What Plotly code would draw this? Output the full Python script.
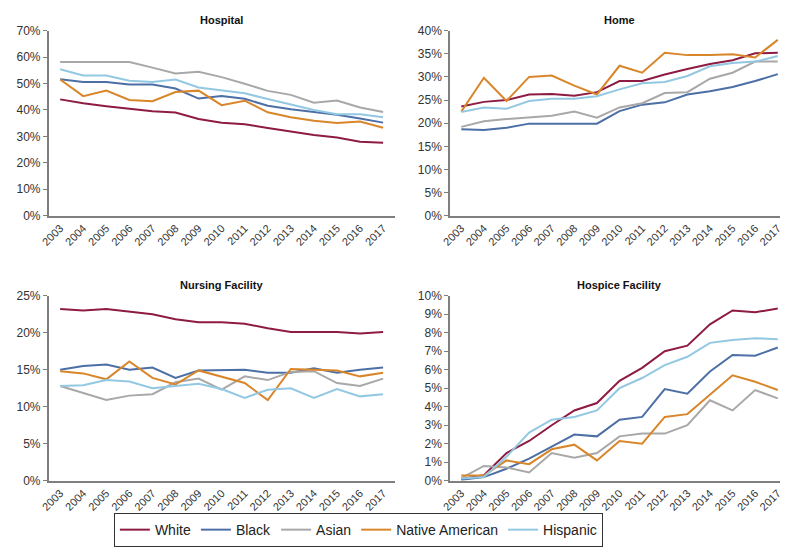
import plotly.graph_objects as go

years = [str(y) for y in range(2003, 2018)]
groups = ["White", "Black", "Asian", "Native American", "Hispanic"]
colors = ["#8E1B43", "#4C6FA6", "#A8A8A8", "#D9862A", "#93C8E3"]

hospital_white = [44.0, 42.5, 41.4, 40.5, 39.5, 39.0, 36.6, 35.2, 34.6, 33.2, 31.9, 30.5, 29.6, 28.0, 27.6]
hospital_black = [51.6, 50.6, 50.6, 49.6, 49.6, 48.1, 44.3, 45.3, 44.2, 41.6, 40.3, 39.2, 38.2, 36.8, 35.2]
hospital_asian = [58.1, 58.1, 58.1, 58.1, 56.0, 53.8, 54.4, 52.4, 49.9, 47.2, 45.7, 42.7, 43.6, 40.9, 39.2]
hospital_native = [51.5, 45.2, 47.3, 43.8, 43.3, 46.8, 47.3, 41.8, 43.5, 39.1, 37.2, 35.9, 35.1, 35.6, 33.3]
hospital_hispanic = [55.4, 53.0, 53.0, 51.0, 50.6, 51.5, 48.5, 47.3, 46.3, 44.1, 42.0, 40.0, 38.4, 38.4, 37.2]

home_white = [23.6, 24.6, 25.0, 26.2, 26.3, 25.9, 26.7, 29.1, 29.1, 30.5, 31.7, 32.8, 33.6, 35.1, 35.2]
home_black = [18.7, 18.5, 19.0, 19.9, 19.9, 19.9, 19.9, 22.6, 24.0, 24.5, 26.2, 26.9, 27.8, 29.1, 30.6]
home_asian = [19.2, 20.4, 20.9, 21.3, 21.6, 22.5, 21.2, 23.4, 24.3, 26.5, 26.7, 29.6, 30.9, 33.3, 33.3]
home_native = [22.5, 29.8, 24.8, 30.0, 30.3, 28.1, 26.2, 32.4, 30.9, 35.2, 34.7, 34.7, 34.9, 34.2, 38.0]
home_hispanic = [22.4, 23.4, 23.1, 24.8, 25.3, 25.3, 25.8, 27.3, 28.6, 28.9, 30.2, 32.3, 33.0, 33.3, 34.5]

nursing_white = [23.2, 23.0, 23.2, 22.9, 22.5, 21.8, 21.4, 21.4, 21.2, 20.6, 20.1, 20.1, 20.1, 19.9, 20.1]
nursing_black = [15.0, 15.5, 15.7, 15.0, 15.3, 13.9, 14.9, 15.0, 15.0, 14.6, 14.6, 15.2, 14.6, 15.0, 15.3]
nursing_asian = [12.8, 11.8, 10.9, 11.5, 11.7, 13.3, 13.8, 12.3, 14.1, 13.6, 14.7, 14.8, 13.2, 12.8, 13.8]
nursing_native = [14.8, 14.5, 13.7, 16.1, 13.9, 13.0, 14.9, 14.0, 13.2, 10.9, 15.1, 15.0, 14.9, 14.1, 14.6]
nursing_hispanic = [12.8, 12.9, 13.6, 13.4, 12.5, 12.8, 13.1, 12.4, 11.2, 12.3, 12.5, 11.2, 12.4, 11.4, 11.7]

hospice_white = [0.1, 0.3, 1.5, 2.15, 3.0, 3.8, 4.2, 5.4, 6.1, 7.0, 7.3, 8.45, 9.2, 9.1, 9.3]
hospice_black = [0.05, 0.2, 0.65, 1.2, 1.85, 2.5, 2.4, 3.3, 3.45, 4.95, 4.7, 5.9, 6.8, 6.75, 7.2]
hospice_asian = [0.15, 0.8, 0.72, 0.45, 1.5, 1.25, 1.5, 2.4, 2.55, 2.55, 3.0, 4.35, 3.8, 4.9, 4.45]
hospice_native = [0.28, 0.28, 1.1, 0.9, 1.7, 1.95, 1.1, 2.15, 2.0, 3.45, 3.6, 4.65, 5.7, 5.35, 4.9]
hospice_hispanic = [0.12, 0.2, 1.3, 2.6, 3.3, 3.45, 3.8, 5.0, 5.55, 6.25, 6.7, 7.45, 7.6, 7.7, 7.65]

panels = [
    ("Hospital", [hospital_white, hospital_black, hospital_asian, hospital_native, hospital_hispanic], 70, 10),
    ("Home", [home_white, home_black, home_asian, home_native, home_hispanic], 40, 5),
    ("Nursing Facility", [nursing_white, nursing_black, nursing_asian, nursing_native, nursing_hispanic], 25, 5),
    ("Hospice Facility", [hospice_white, hospice_black, hospice_asian, hospice_native, hospice_hispanic], 10, 1),
]

W, H = 788, 548
# pixel boxes: (x0, x1, ytop, ybottom)
boxes = [(32, 382, 16, 206), (438, 781, 16, 206), (32, 382, 288, 478), (438, 781, 288, 478)]

FONT = "Liberation Sans, Arial, Helvetica, sans-serif"
fig = go.Figure()
layout = {}
annotations = []
for i, ((title, series, ymax, dtick), (x0, x1, yt, yb)) in enumerate(zip(panels, boxes)):
    n = "" if i == 0 else str(i + 1)
    for g, (name, col, vals) in enumerate(zip(groups, colors, series)):
        fig.add_trace(go.Scatter(
            x=years, y=vals, mode="lines", name=name,
            line=dict(color=col, width=2),
            xaxis="x" + n, yaxis="y" + n,
            showlegend=(i == 0),
            hovertemplate="%{x}: %{y:.1f}%<extra>" + name + "</extra>",
        ))
    layout["xaxis" + n] = dict(
        domain=[x0 / W, x1 / W], anchor="y" + n, type="category",
        range=[-0.5, 14.5], showgrid=False, showline=True, linecolor="#7f7f7f",
        linewidth=1.5, ticks="", tickangle=-45, tickfont=dict(size=11, color="#333", family=FONT),
        zeroline=False,
    )
    layout["yaxis" + n] = dict(
        domain=[1 - yb / H, 1 - yt / H], anchor="x" + n, range=[0, ymax],
        dtick=dtick, tick0=0, ticksuffix="%", showgrid=False, showline=True,
        linecolor="#7f7f7f", linewidth=1.5, ticks="outside", ticklen=4,
        tickcolor="#7f7f7f", tickfont=dict(size=12, color="#333", family=FONT),
        zeroline=False,
    )
    annotations.append(dict(
        text="<b>" + title + "</b>", xref="paper", yref="paper",
        x=(x0 + x1) / 2 / W, y=1 - (yt - 11) / H, xanchor="center", yanchor="middle",
        showarrow=False, font=dict(size=11, color="#111", family=FONT),
    ))

fig.update_layout(
    width=W, height=H, margin=dict(l=0, r=0, t=0, b=0),
    plot_bgcolor="white", paper_bgcolor="white",
    annotations=annotations,
    legend=dict(orientation="h", x=98 / W, y=2 / H, xanchor="left", yanchor="bottom",
                bordercolor="#333", borderwidth=1, font=dict(size=14, color="#222", family=FONT),
                itemwidth=30, tracegroupgap=0),
    font=dict(family=FONT),
    **layout,
)
fig.write_html("out.html")
